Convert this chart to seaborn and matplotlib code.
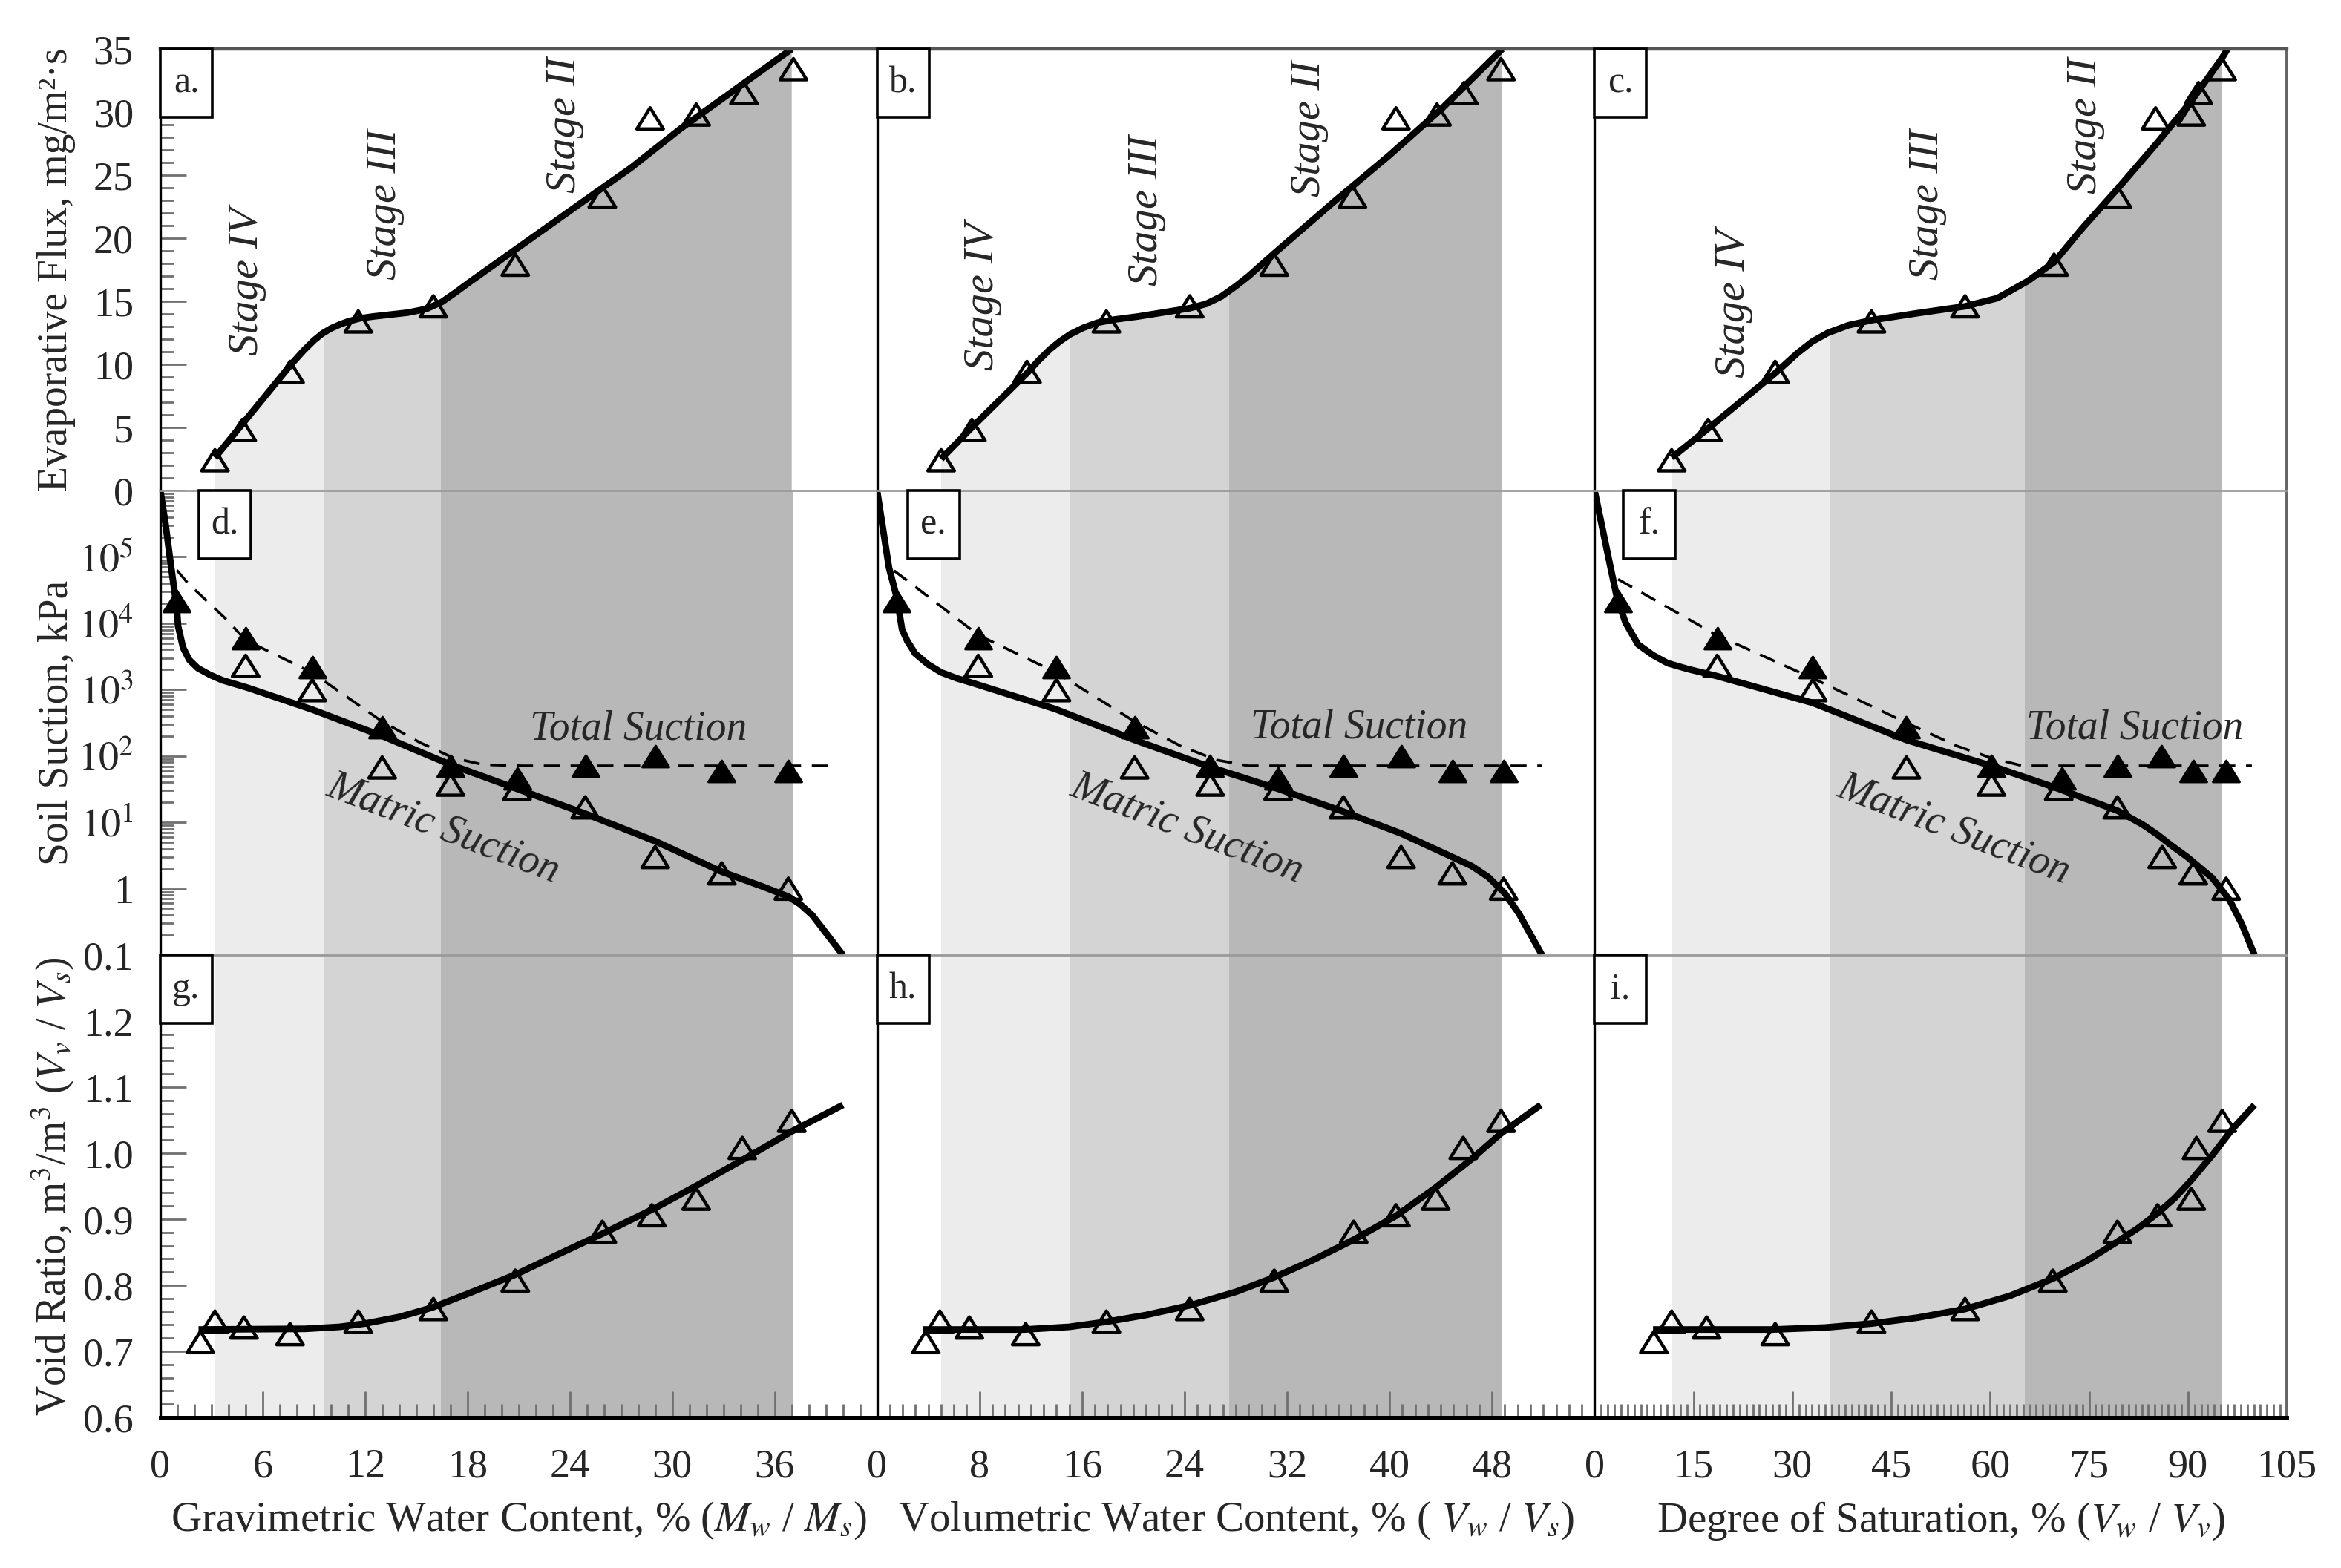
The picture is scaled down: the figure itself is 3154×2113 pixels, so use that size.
import matplotlib
matplotlib.use("Agg")
import matplotlib.pyplot as plt
import matplotlib.ticker as mticker
from matplotlib.patches import Polygon, Rectangle
from matplotlib.path import Path
import seaborn as sns

# ---------------- data ----------------
# drying-stage band edges (x units of each column)
bands_grav = [3.17, 9.57, 16.43, 37.09]
bands_vol = [4.98, 15.06, 27.5, 48.8]
bands_sat = [11.7, 35.6, 65.3, 95.2]
band_colors = ["#ececec", "#d4d4d4", "#b8b8b8"]

# top row: evaporative flux, mg/m2.s
flux = [2.4, 4.8, 9.4, 13.4, 14.6, 17.9, 23.3, 29.5, 29.8, 31.5, 33.4]
flux_grav = [3.2, 4.8, 7.6, 11.6, 16.0, 20.8, 25.9, 28.7, 31.4, 34.2, 37.1]
flux_vol = [5.0, 7.4, 11.7, 17.9, 24.4, 31.0, 37.1, 40.5, 43.7, 45.8, 48.7]
flux_sat = [11.7, 17.2, 27.4, 42.0, 56.2, 69.7, 79.3, 85.1, 90.5, 91.6, 95.2]

fit_flux_grav_x = [3.2, 7.6, 8.4, 9.0, 9.5, 10.0, 10.5, 11.0, 11.7, 12.5, 13.5, 14.5, 15.6,
                   16.5, 17.3, 18.1, 20.6, 23.1, 25.6, 27.6, 30.5, 33.9, 37.0]
fit_flux_grav_y = [2.6, 9.9, 11.1, 11.9, 12.45, 12.85, 13.15, 13.4, 13.65, 13.8, 13.95, 14.1,
                   14.4, 14.95, 15.7, 16.5, 18.9, 21.3, 23.7, 25.6, 28.7, 32.0, 35.0]
fit_flux_vol_x = [5.0, 7.4, 11.7, 12.6, 13.5, 14.3, 15.1, 16.1, 17.2, 18.5, 20.4, 24.4, 25.7,
                  26.9, 28.0, 29.0, 31.0, 35.9, 39.9, 44.0, 48.8]
fit_flux_vol_y = [2.5, 5.0, 9.3, 10.3, 11.2, 11.85, 12.4, 12.9, 13.3, 13.55, 13.8, 14.45, 14.8,
                  15.4, 16.2, 17.0, 18.8, 23.1, 26.5, 30.2, 35.0]
fit_flux_sat_x = [11.7, 17.2, 27.4, 30.8, 33.0, 35.4, 38.5, 42.0, 49.0, 56.2, 61.1, 65.7, 69.7,
                  74.0, 79.3, 85.4, 90.7, 95.2, 96.0]
fit_flux_sat_y = [2.6, 4.9, 9.3, 10.9, 11.8, 12.5, 13.1, 13.5, 14.06, 14.6, 15.25, 16.6, 18.1,
                  20.8, 23.9, 27.6, 31.0, 34.3, 35.0]

# middle row: soil suction, kPa
matric = [2280, 980, 67, 37, 32, 16.8, 3.0, 1.7, 1.0]
matric_grav = [5.0, 8.9, 13.0, 17.0, 20.9, 24.9, 29.0, 32.9, 36.8]
matric_vol = [7.9, 14.0, 20.1, 26.0, 31.3, 36.4, 40.9, 44.9, 48.9]
matric_sat = [18.6, 33.1, 47.3, 60.2, 70.4, 79.3, 86.1, 90.8, 95.8]

total = [21400, 5960, 2160, 270, 71, 46, 71, 98, 60, 60]
total_grav = [0.95, 5.0, 8.9, 13.0, 17.0, 20.9, 24.9, 29.0, 32.9, 36.8]
total_vol = [1.5, 7.9, 14.0, 20.1, 26.0, 31.3, 36.4, 40.9, 44.9, 48.9]
total_sat = [3.6, 18.6, 33.1, 47.3, 60.2, 70.9, 79.3, 86.0, 90.8, 95.8]

fit_matric_grav_x = [0.0, 0.3, 0.61, 0.97, 1.04, 1.33, 1.7, 2.2, 2.93, 3.65, 5.1, 8.9, 13.0,
                     17.0, 20.9, 24.9, 29.0, 32.9, 35.2, 36.8, 37.5, 38.2, 40.0]
fit_matric_grav_y = [1e6, 3.2e5, 7.8e4, 1.66e4, 9.1e3, 4.3e3, 2.8e3, 2.1e3, 1.66e3, 1.38e3,
                     1.07e3, 500, 200, 74, 32, 13.5, 5.2, 1.8, 1.1, 0.76, 0.58, 0.4, 0.1]
fit_matric_vol_x = [0.0, 0.93, 1.55, 1.95, 2.36, 2.97, 3.98, 5.0, 6.22, 7.44, 13.9, 20.1, 26.0,
                    31.3, 36.4, 40.9, 44.9, 46.4, 47.7, 49.0, 50.1, 51.9]
fit_matric_vol_y = [1e6, 6.9e4, 2.4e4, 8.1e3, 5.4e3, 3.5e3, 2.4e3, 1.82e3, 1.48e3, 1.26e3, 510,
                    174, 68, 32, 14.5, 6.8, 3.0, 2.2, 1.5, 0.85, 0.42, 0.1]
fit_matric_sat_x = [0.0, 2.43, 3.41, 4.7, 6.59, 8.87, 11.1, 14.17, 18.55, 33.1, 47.3, 60.2,
                    70.4, 79.3, 83.1, 85.4, 87.6, 89.9, 93.7, 96.3, 98.2, 100.1]
fit_matric_sat_y = [1e6, 6.9e4, 2.4e4, 1.02e4, 4.8e3, 3.3e3, 2.5e3, 2.04e3, 1.6e3, 630, 174,
                    71, 32, 15, 9.3, 6.5, 4.4, 3.0, 1.45, 0.68, 0.29, 0.1]

fit_total_grav_x = [0.97, 1.62, 3.94, 4.98, 8.9, 13.0, 15.2, 17.2, 18.9, 21.2, 39.4]
fit_total_grav_y = [6.3e4, 4.0e4, 1.1e4, 5.6e3, 1.8e3, 330, 160, 93, 74, 71, 71]
fit_total_vol_x = [1.33, 7.93, 14.0, 20.1, 23.7, 26.5, 29.0, 51.9]
fit_total_vol_y = [6.2e4, 6.6e3, 1.8e3, 330, 141, 87, 71, 71]
fit_total_sat_x = [3.57, 18.55, 33.1, 47.3, 55.0, 60.2, 64.9, 99.7]
fit_total_sat_y = [4.6e4, 6.6e3, 1.48e3, 316, 141, 93, 71, 71]

# bottom row: void ratio
void = [0.714, 0.745, 0.736, 0.726, 0.745, 0.764, 0.807, 0.881, 0.906, 0.931, 1.008, 1.049]
void_grav = [2.35, 3.2, 4.9, 7.6, 11.6, 16.0, 20.8, 25.9, 28.8, 31.4, 34.1, 37.0]
void_vol = [3.8, 4.9, 7.2, 11.6, 17.9, 24.4, 31.0, 37.2, 40.5, 43.6, 45.75, 48.7]
void_sat = [9.0, 11.7, 17.0, 27.4, 42.0, 56.2, 69.5, 79.3, 85.4, 90.5, 91.3, 95.2]

fit_void_grav_x = [2.24, 8.5, 10.5, 12.0, 14.0, 15.9, 18.0, 20.8, 23.0, 25.9, 29.0, 31.5,
                   34.4, 37.0, 40.0]
fit_void_grav_y = [0.733, 0.734, 0.737, 0.742, 0.752, 0.766, 0.787, 0.816, 0.843, 0.878, 0.917,
                   0.952, 0.994, 1.033, 1.073]
fit_void_vol_x = [3.58, 11.5, 15.0, 18.0, 21.0, 24.5, 28.0, 31.0, 34.0, 37.2, 40.5, 43.6, 46.4,
                  48.7, 51.8]
fit_void_vol_y = [0.733, 0.733, 0.737, 0.745, 0.755, 0.770, 0.790, 0.812, 0.838, 0.869, 0.905,
                  0.948, 0.991, 1.030, 1.073]
fit_void_sat_x = [8.87, 27.0, 35.0, 42.0, 49.0, 56.2, 63.0, 69.5, 74.5, 79.3, 82.5, 85.4, 88.0,
                  90.5, 93.7, 96.7, 100.1]
fit_void_sat_y = [0.733, 0.733, 0.736, 0.742, 0.751, 0.764, 0.784, 0.810, 0.836, 0.866, 0.887,
                  0.909, 0.932, 0.959, 0.997, 1.036, 1.073]

xlabels = [r"Gravimetric Water Content, % ($M_w$ / $M_s$)",
           r"Volumetric Water Content, % ( $V_w$ / $V_s$)",
           r"Degree of Saturation, % ($V_w$ / $V_v$)"]
ylabels = ["Evaporative Flux, mg/m²·s", "Soil Suction, kPa",
           r"Void Ratio, m$^3$/m$^3$ ($V_v$ / $V_s$)"]
panel_letters = [["a.", "b.", "c."], ["d.", "e.", "f."], ["g.", "h.", "i."]]

columns = [
    dict(xmax=42, xticks=[0, 6, 12, 18, 24, 30, 36], bands=bands_grav,
         flux_x=flux_grav, flux_fit=(fit_flux_grav_x, fit_flux_grav_y),
         matric_x=matric_grav, total_x=total_grav,
         matric_fit=(fit_matric_grav_x, fit_matric_grav_y), total_fit=(fit_total_grav_x, fit_total_grav_y),
         void_x=void_grav, void_fit=(fit_void_grav_x, fit_void_grav_y),
         stages=[(5.1, 16.6), (13.2, 22.7), (23.7, 29.0)],
         total_lbl=(28.0, 257), matric_lbl=(16.6, 7.9), box_dx=52),
    dict(xmax=56, xticks=[0, 8, 16, 24, 32, 40, 48], bands=bands_vol,
         flux_x=flux_vol, flux_fit=(fit_flux_vol_x, fit_flux_vol_y),
         matric_x=matric_vol, total_x=total_vol,
         matric_fit=(fit_matric_vol_x, fit_matric_vol_y), total_fit=(fit_total_vol_x, fit_total_vol_y),
         void_x=void_vol, void_fit=(fit_void_vol_x, fit_void_vol_y),
         stages=[(8.25, 15.4), (21.05, 22.2), (33.75, 28.7)],
         total_lbl=(37.6, 270), matric_lbl=(24.2, 7.9), box_dx=41),
    dict(xmax=105, xticks=[0, 15, 30, 45, 60, 75, 90, 105], bands=bands_sat,
         flux_x=flux_sat, flux_fit=(fit_flux_sat_x, fit_flux_sat_y),
         matric_x=matric_sat, total_x=total_sat,
         matric_fit=(fit_matric_sat_x, fit_matric_sat_y), total_fit=(fit_total_sat_x, fit_total_sat_y),
         void_x=void_sat, void_fit=(fit_void_sat_x, fit_void_sat_y),
         stages=[(21.1, 14.8), (50.5, 22.65), (74.5, 28.9)],
         total_lbl=(81.95, 263), matric_lbl=(54.5, 7.8), box_dx=39),
]

# ---------------- styling ----------------
sns.set_theme(style="ticks")
plt.rcParams["font.family"] = ["Liberation Serif", "DejaVu Serif"]
plt.rcParams["mathtext.fontset"] = "stix"
plt.rcParams["xtick.labelsize"] = 19.5
plt.rcParams["ytick.labelsize"] = 19.5

TICK_COLOR = "#707070"
MARKER_S = 165
# slightly flattened triangle like the original plot symbols
TRI = Path([(-1, -0.8), (1, -0.8), (0, 0.8), (-1, -0.8)], closed=True)


def label_box(ax, text, dx_px, w_px=70, h_px=92):
    fig = ax.figure
    pos = ax.get_position()
    fw, fh = fig.get_size_inches() * fig.dpi
    aw, ah = pos.width * fw, pos.height * fh
    x0, w, h = dx_px / aw, w_px / aw, h_px / ah
    ax.add_patch(Rectangle((x0, 1 - h), w, h, transform=ax.transAxes, fc="white",
                           ec="black", lw=1.3, zorder=6, clip_on=False))
    ax.text(x0 + w / 2, 1 - h / 2, text, transform=ax.transAxes, ha="center",
            va="center", fontsize=18, zorder=7)


def open_tri(ax, x, y):
    sns.scatterplot(x=x, y=y, ax=ax, marker=TRI, s=MARKER_S, facecolor="none",
                    edgecolor="black", linewidth=1.6, zorder=4)


def fit_line(ax, xy, dashed=False):
    if dashed:
        sns.lineplot(x=xy[0], y=xy[1], ax=ax, color="black", lw=1.3, sort=False,
                     estimator=None, linestyle=(0, (6, 4)), zorder=3)
    else:
        sns.lineplot(x=xy[0], y=xy[1], ax=ax, color="black", lw=3.2, sort=False,
                     estimator=None, zorder=3, solid_capstyle="butt",
                     solid_joinstyle="round")


fig = plt.figure(figsize=(15.77, 10.565), dpi=200)
gs = fig.add_gridspec(3, 3, left=216 / 3154, right=3081 / 3154, top=1 - 66 / 2113,
                      bottom=1 - 1910 / 2113, wspace=0, hspace=0,
                      width_ratios=[966, 967, 933], height_ratios=[595, 626, 623])
axes = [[fig.add_subplot(gs[r, c]) for c in range(3)] for r in range(3)]

for c, col in enumerate(columns):
    ax_f, ax_s, ax_v = axes[0][c], axes[1][c], axes[2][c]
    b = col["bands"]

    # --- top: evaporative flux, bands filled below the fitted curve
    ax_f.set_xlim(0, col["xmax"])
    ax_f.set_ylim(0, 35)
    fx, fy = col["flux_fit"]
    under = Polygon(list(zip(fx, fy)) + [(fx[-1], 0), (fx[0], 0)], closed=True,
                    transform=ax_f.transData, fc="none", ec="none")
    ax_f.add_patch(under)
    for i in range(3):
        span = ax_f.axvspan(b[i], b[i + 1], color=band_colors[i], lw=0, zorder=0)
        span.set_clip_path(under)
    fit_line(ax_f, col["flux_fit"])
    open_tri(ax_f, col["flux_x"], flux)
    for (sx, sy), name in zip(col["stages"], ["Stage IV", "Stage III", "Stage II"]):
        ax_f.text(sx, sy, name, rotation=90, style="italic", fontsize=21,
                  ha="center", va="center")

    # --- middle: soil suction
    ax_s.set_yscale("log")
    ax_s.set_xlim(0, col["xmax"])
    ax_s.set_ylim(0.1, 1e6)
    for i in range(3):
        ax_s.axvspan(b[i], b[i + 1], color=band_colors[i], lw=0, zorder=0)
    fit_line(ax_s, col["total_fit"], dashed=True)
    fit_line(ax_s, col["matric_fit"])
    open_tri(ax_s, col["matric_x"], matric)
    sns.scatterplot(x=col["total_x"], y=total, ax=ax_s, marker=TRI, s=MARKER_S,
                    color="black", edgecolor="black", linewidth=1.2, zorder=5)
    ax_s.text(*col["total_lbl"], "Total Suction", style="italic", fontsize=20,
              ha="center", va="center")
    ax_s.text(*col["matric_lbl"], "Matric Suction", style="italic", fontsize=20,
              ha="center", va="center", rotation=-21, rotation_mode="anchor")

    # --- bottom: void ratio
    ax_v.set_xlim(0, col["xmax"])
    ax_v.set_ylim(0.6, 1.3)
    for i in range(3):
        ax_v.axvspan(b[i], b[i + 1], color=band_colors[i], lw=0, zorder=0)
    fit_line(ax_v, col["void_fit"])
    open_tri(ax_v, col["void_x"], void)

    ax_v.xaxis.set_major_locator(mticker.FixedLocator(col["xticks"]))
    ax_v.xaxis.set_minor_locator(mticker.MultipleLocator(1))
    ax_v.set_xlabel(xlabels[c], fontsize=20.5, labelpad=7)

# ---------------- axes cosmetics ----------------
for r in range(3):
    for c in range(3):
        ax = axes[r][c]
        ax.set_facecolor("white")
        for side in ["left", "right", "top", "bottom"]:
            ax.spines[side].set_visible(True)
            ax.spines[side].set_zorder(5)
        ax.spines["left"].set_color("black")
        ax.spines["left"].set_linewidth(1.2)
        if r == 0:
            ax.spines["top"].set_color("#555555")
            ax.spines["top"].set_linewidth(1.6)
        else:
            ax.spines["top"].set_color("#9a9a9a")
            ax.spines["top"].set_linewidth(1.0)
        if r < 2:
            ax.spines["bottom"].set_visible(False)
        else:
            ax.spines["bottom"].set_color("black")
            ax.spines["bottom"].set_linewidth(1.8)
        if c < 2:
            ax.spines["right"].set_visible(False)
        else:
            ax.spines["right"].set_color("#666666")
            ax.spines["right"].set_linewidth(1.4)

        ax.tick_params(which="both", direction="in", color=TICK_COLOR, width=1.0,
                       top=False, right=False)
        ax.tick_params(which="major", length=12.5)
        ax.tick_params(which="minor", length=6.5)
        ax.tick_params(axis="y", pad=13)
        ax.tick_params(axis="x", pad=15)
        if r < 2:
            ax.tick_params(axis="x", which="both", bottom=False, labelbottom=False)
        if c > 0:
            ax.tick_params(axis="y", which="both", left=False, labelleft=False)
        ax.set_ylabel("")
        if r < 2:
            ax.set_xlabel("")

        letter = panel_letters[r][c]
        label_box(ax, letter, columns[c]["box_dx"] if r == 1 else 0)

# y ticks on the first column
a0, a1, a2 = axes[0][0], axes[1][0], axes[2][0]
a0.yaxis.set_major_locator(mticker.MultipleLocator(5))
a0.yaxis.set_minor_locator(mticker.MultipleLocator(1))
a0.yaxis.set_major_formatter(mticker.FormatStrFormatter("%d"))

log_ticks = [0.1, 1, 10, 1e2, 1e3, 1e4, 1e5]
log_labels = ["0.1", "1", r"$10^1$", r"$10^2$", r"$10^3$", r"$10^4$", r"$10^5$"]
a1.yaxis.set_major_locator(mticker.FixedLocator(log_ticks))
a1.yaxis.set_major_formatter(mticker.FixedFormatter(log_labels))
a1.yaxis.set_minor_locator(mticker.LogLocator(base=10, subs=range(2, 10), numticks=20))
a1.yaxis.set_minor_formatter(mticker.NullFormatter())

a2.yaxis.set_major_locator(mticker.FixedLocator([0.6, 0.7, 0.8, 0.9, 1.0, 1.1, 1.2]))
a2.yaxis.set_major_formatter(mticker.FormatStrFormatter("%.1f"))
a2.yaxis.set_minor_locator(mticker.MultipleLocator(0.02))

for ax, lbl in zip([a0, a1, a2], ylabels):
    ax.set_ylabel(lbl, fontsize=20)
    ax.yaxis.set_label_coords(-0.118, 0.5)

fig.savefig("out.png", dpi=200, facecolor="white")
